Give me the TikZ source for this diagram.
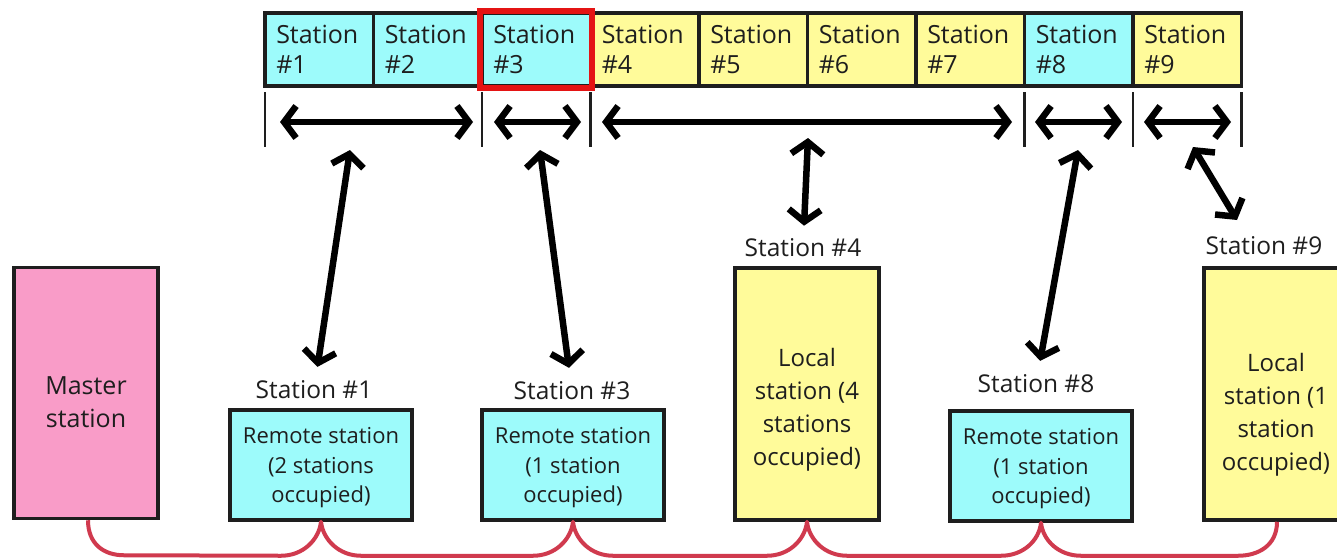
\documentclass[tikz,border=0pt]{standalone}
\usepackage{fontspec}
\setmainfont{Open Sans}
\usetikzlibrary{arrows.meta,calc}
\definecolor{cyanfill}{HTML}{9DFBFB}
\definecolor{yellowfill}{HTML}{FFFB9A}
\definecolor{pinkfill}{HTML}{F99CC8}
\definecolor{busred}{HTML}{D03A4E}
\definecolor{hlred}{HTML}{E41414}
\definecolor{ink}{HTML}{1E1E1E}
\begin{document}
\begin{tikzpicture}[x=1pt,y=-1pt,
  cell/.style={draw=ink,line width=3.5pt,minimum width=108.5pt,minimum height=73pt,
    text width=86pt,align=left,inner sep=0pt,text=ink,font=\fontsize{25}{30}\selectfont},
  box/.style={draw=ink,line width=3.5pt,inner sep=0pt},
  btext/.style={align=center,inner sep=0pt,text=ink},
  remote/.style={box,fill=cyanfill,minimum width=182pt,minimum height=110pt},
  local/.style={box,fill=yellowfill,minimum width=144pt,minimum height=252pt},
  rtext/.style={btext,font=\fontsize{22}{29.5}\selectfont},
  ltext/.style={btext,font=\fontsize{24}{33}\selectfont},
  lab/.style={inner sep=0pt,text=ink,font=\fontsize{24.5}{26}\selectfont},
  tick/.style={draw=ink,line width=2.5pt},
  darr/.style={draw=black,line width=6.5pt,line cap=round,
    {Straight Barb[length=12pt,width=32pt]}-{Straight Barb[length=12pt,width=32pt]}},
  bus/.style={draw=busred,line width=4pt}]
\useasboundingbox (0,0) rectangle (1337,557);
\fill[white] (0,0) rectangle (1337,557);

% top bar of stations
\foreach \i/\c in {1/cyanfill,2/cyanfill,3/cyanfill,4/yellowfill,5/yellowfill,6/yellowfill,7/yellowfill,8/cyanfill,9/yellowfill}
  \node[cell,fill=\c] (c\i) at ({265+108.5*(\i-0.5)},49.5) {Station\\\#\i};
\draw[hlred,line width=6pt] (c3.north west) rectangle (c3.south east);

% ticks
\foreach \n/\x in {1/265,2/482,3/590.5,4/1024.5,5/1133,6/1241.5}{
  \coordinate (ta\n) at (\x,92);
  \coordinate (tb\n) at (\x,147);
  \draw[tick] (ta\n) -- (tb\n);
}
% horizontal span arrows
\coordinate (h1l) at (280,122); \coordinate (h1r) at (473,122);
\coordinate (h2l) at (494,122); \coordinate (h2r) at (581,122);
\coordinate (h3l) at (602,122); \coordinate (h3r) at (1012,122);
\coordinate (h4l) at (1035,122); \coordinate (h4r) at (1122,122);
\coordinate (h5l) at (1144,122); \coordinate (h5r) at (1231,122);
\draw[darr] (h1l) -- (h1r);
\draw[darr] (h2l) -- (h2r);
\draw[darr] (h3l) -- (h3r);
\draw[darr] (h4l) -- (h4r);
\draw[darr] (h5l) -- (h5r);

% stations
\node[box,fill=pinkfill,minimum width=144pt,minimum height=251pt] (master) at (86,393) {};
\node[btext,font=\fontsize{25}{33}\selectfont] (mastert) at ($(master.center)+(0,9)$) {Master\\station};
\node[remote] (r1) at (321,465) {};
\node[rtext] (r1t) at ($(r1.center)+(0,3)$) {Remote station\\(2 stations\\occupied)};
\node[remote] (r3) at (573,465) {};
\node[rtext] (r3t) at ($(r3.center)+(0,3)$) {Remote station\\(1 station\\occupied)};
\node[local] (l4) at (807,394) {};
\node[ltext] (l4t) at ($(l4.center)+(0,16)$) {Local\\station (4\\stations\\occupied)};
\node[remote] (r8) at (1041,466) {};
\node[rtext] (r8t) at ($(r8.center)+(0,3)$) {Remote station\\(1 station\\occupied)};
\node[local] (l9) at (1276,394) {};
\node[ltext] (l9t) at ($(l9.center)+(0,21)$) {Local\\station (1\\station\\occupied)};

% labels
\node[lab] (s1) at (314,390) {Station \#1};
\node[lab] (s3) at (572,391) {Station \#3};
\node[lab] (s4) at (803,248) {Station \#4};
\node[lab] (s8) at (1036,384) {Station \#8};
\node[lab] (s9) at (1264,246) {Station \#9};

% vertical arrows
\coordinate (u1) at (350,150);
\coordinate (u3) at (540,150);
\coordinate (u4) at (808,138);
\coordinate (u8) at (1078,150);
\coordinate (u9) at (1193,147);
\coordinate (e9) at (1237,220);
\draw[darr,shorten >=14pt] (u1) -- (s1);
\draw[darr,shorten >=14pt] (u3) -- (s3);
\draw[darr,shorten >=13pt] (u4) -- (s4);
\draw[darr,shorten >=14pt] (u8) -- (s8);
\draw[darr] (u9) -- (e9);

% bus
\draw[bus,line join=round]
  ([xshift=2pt]master.south) .. controls +(0,24) and +(-20,0) .. ($(master.south)+(38,35)$)
  -- ($(r1.south)+(-40,34)$) .. controls +(22,0) and +(-2,18) .. (r1.south)
     .. controls +(2,18) and +(-22,0) .. ($(r1.south)+(40,34)$)
  -- ($(r3.south)+(-40,34)$) .. controls +(22,0) and +(-2,18) .. (r3.south)
     .. controls +(2,18) and +(-22,0) .. ($(r3.south)+(40,34)$)
  -- ($(l4.south)+(-40,34)$) .. controls +(22,0) and +(-2,18) .. (l4.south)
     .. controls +(2,18) and +(-22,0) .. ($(l4.south)+(40,34)$)
  -- ($(r8.south)+(-40,33)$) .. controls +(22,0) and +(-2,18) .. (r8.south)
     .. controls +(2,18) and +(-22,0) .. ($(r8.south)+(40,33)$)
  -- ($(l9.south)+(-38,34)$) .. controls +(20,0) and +(0,24) .. ([xshift=1pt]l9.south);
\end{tikzpicture}
\end{document}
